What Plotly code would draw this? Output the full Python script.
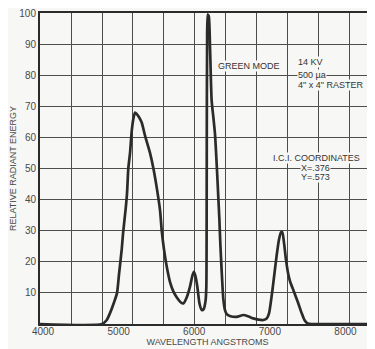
import plotly.graph_objects as go

# emission curve: wavelength (angstrom) vs relative energy
wavelength = [3960, 4780, 4843, 4886, 4940, 4979, 5005, 5041, 5058, 5093, 5111, 5128,
              5151, 5173, 5195, 5217, 5240, 5270, 5305, 5350, 5415, 5460, 5503, 5548,
              5570, 5600, 5636, 5680, 5724, 5770, 5820, 5857, 5900, 5944, 5975, 5995,
              6015, 6041, 6070, 6099, 6125, 6150, 6160, 6164, 6166, 6170, 6178, 6192,
              6210, 6230, 6255, 6275, 6300, 6320, 6332, 6345, 6363, 6385, 6407, 6430,
              6470, 6561, 6649, 6720, 6782, 6850, 6914, 6960, 6990, 7010, 7035, 7060,
              7090, 7120, 7148, 7165, 7188, 7214, 7244, 7270, 7311, 7340, 7377, 7421,
              7460, 7500, 7550, 8400]
energy = [0, 0, 1.3, 3.5, 7, 10, 16, 24, 29, 37, 42, 50,
          55, 62, 66, 68, 67.5, 66.5, 64.8, 60.5, 55, 50, 44, 36.5,
          30, 24, 18.5, 13.5, 10.5, 8.5, 7, 6.6, 8.5, 12, 15.5, 16.8,
          15.5, 12, 6.5, 4.5, 4.8, 7.5, 12, 30, 60, 88, 99.5, 99,
          88, 72, 66, 61, 50, 40, 34, 26, 17, 8, 4.5, 3.2,
          2.6, 2.3, 2.9, 2.4, 1.8, 1.4, 1.3, 1.8, 3.5, 6.5, 11, 16,
          22, 27, 29.5, 29.5, 26, 20.6, 16, 13.5, 10.9, 9, 6.6, 3.5,
          1.2, 0.2, 0, 0]

x_ticks = [4000, 5000, 6000, 7000, 8000]
y_ticks = [10, 20, 30, 40, 50, 60, 70, 80, 90, 100]

ink = "#2b2b2b"
grid = "#4d4d4d"
paper = "#f7f7f5"
label = "#4a4a4a"
font = "Liberation Sans, Arial, sans-serif"

fig = go.Figure()
fig.add_trace(go.Scatter(
    x=wavelength, y=energy, mode="lines",
    line=dict(color=ink, width=2.7, shape="spline", smoothing=0.6),
    showlegend=False, hoverinfo="skip",
))

# listed bottom line first so upper lines sit on top of the white boxes
notes = [
    ("4\" x 4\" RASTER", 7360, 77.0, "left"),
    ("500 µa", 7360, 80.2, "left"),
    ("14 KV", 7360, 84.2, "left"),
    ("GREEN MODE", 6302, 83.0, "left"),
    ("Y=.573", 7598, 47.2, "center"),
    ("X=.376", 7598, 50.3, "center"),
    ("I.C.I. COORDINATES", 7611, 53.5, "center"),
]
for text, nx, ny, anchor in notes:
    fig.add_annotation(
        x=nx, y=ny, text=text, showarrow=False, xanchor=anchor, yanchor="middle",
        font=dict(family=font, size=9, color="#333333"),
        bgcolor=paper, borderpad=0,
    )

fig.update_xaxes(
    range=[3960, 8391], tickvals=x_ticks, showgrid=False,
    ticks="", tickfont=dict(family=font, size=10, color=label),
    ticklabelstandoff=-3, ticklabeloverflow="allow",
    minor=dict(tickmode="linear", tick0=3960, dtick=410, showgrid=True,
               gridcolor=grid, gridwidth=1, ticks=""),
    showline=True, linecolor=ink, linewidth=2, mirror=True,
    zeroline=False, automargin=False,
    title=dict(text="WAVELENGTH ANGSTROMS", standoff=0,
               font=dict(family=font, size=9, color=label)),
)
fig.update_yaxes(
    range=[0, 100], tickvals=y_ticks, showgrid=True, gridcolor=grid, gridwidth=1,
    ticks="", tickfont=dict(family=font, size=10, color=label),
    ticklabeloverflow="allow",
    showline=True, linecolor=ink, linewidth=2, mirror=True,
    zeroline=False, automargin=False,
    title=dict(text="RELATIVE RADIANT ENERGY", standoff=4,
               font=dict(family=font, size=9, color=label)),
)

# the page puts the figure 8px in from the top-left corner
fig.update_layout(
    width=367, height=341, autosize=False,
    margin=dict(l=32, r=0, t=5, b=25),
    plot_bgcolor=paper, paper_bgcolor=paper,
)

fig.write_html("out.html")
